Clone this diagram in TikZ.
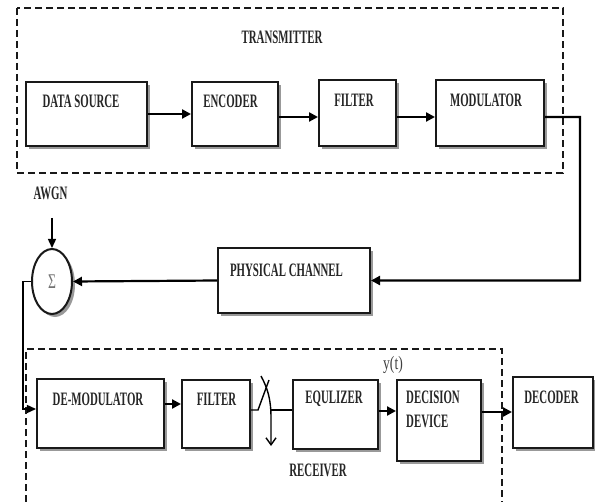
\documentclass[tikz,border=0pt]{standalone}
\usepackage{graphicx}
\usepackage{fontspec}
\setmainfont{Liberation Serif}
\usetikzlibrary{arrows.meta,shapes.geometric,shadows}
\newcommand\cnd[1]{\scalebox{0.64}[1.12]{#1}}
\begin{document}
\begin{tikzpicture}[x=1bp,y=-1bp,
  blk/.style={draw=black!90, line width=2bp, fill=white, inner sep=0pt,
    drop shadow={shadow xshift=3bp, shadow yshift=-3bp, fill=black!50, opacity=0.8}},
  lbl/.style={inner sep=0pt, text=black!85, font=\fontsize{17}{24}\selectfont\bfseries},
  grp/.style={dash pattern=on 7bp off 4bp, line width=1.7bp, draw=black!90},
  arr/.style={line width=2.2bp, -{Triangle[length=9bp,width=9bp]}},
  warr/.style={line width=1.4bp, -{Triangle[length=9bp,width=8bp]}},
  wire/.style={line width=1.4bp}
]
\fill[white] (0,0) rectangle (595,502);
\useasboundingbox (0,0) rectangle (595,502);

% groups
\draw[grp] (17,8) rectangle (563,173);
\draw[grp] (26,502) |- (502,349) -- (502,502);

% transmitter blocks
\node[blk, minimum width=121bp, minimum height=64bp] (ds) at (86.5,114) {};
\node[blk, minimum width=86bp, minimum height=64bp] (enc) at (235,114) {};
\node[blk, minimum width=77bp, minimum height=66bp] (fil) at (357.5,113) {};
\node[blk, minimum width=108bp, minimum height=66bp] (mod) at (490,113) {};

% channel and sum
\node[blk, minimum width=152bp, minimum height=65bp] (chan) at (294,280.5) {};
\node[blk, ellipse, minimum width=40bp, minimum height=65bp, text=black!55,
  font=\fontsize{21}{21}\selectfont] (sum) at (52,281.5) {\scalebox{0.65}[1]{Σ}};

% receiver blocks
\node[blk, minimum width=127bp, minimum height=69bp] (dem) at (100.5,413.5) {};
\node[blk, minimum width=68bp, minimum height=68bp] (fil2) at (216,414) {};
\node[blk, minimum width=85bp, minimum height=69bp] (eq) at (335.5,414.5) {};
\node[blk, minimum width=84bp, minimum height=81bp] (dd) at (439,420.5) {};
\node[blk, minimum width=80bp, minimum height=71bp] (dec) at (553,412.5) {};

% connectors transmitter
\draw[arr] (ds.east) -- (enc.west);
\draw[arr] ([yshift=-3bp]enc.east) -- ([yshift=-3bp]enc.east -| fil.west);
\draw[arr] ([yshift=-4bp]fil.east) -- ([yshift=-4bp]fil.east -| mod.west);
\coordinate (tr) at (580,117);
\draw[arr] ([yshift=-4bp]mod.east) -- (tr) |- (chan.east);
\draw[arr] (chan.west) -- (sum.east);

% noise
\coordinate (nz) at (52,218);
\draw[warr] (nz) -- (sum.north);

% sum to receiver
\coordinate (lw) at (23,0);
\draw[warr] (sum.west) -- (sum.west -| lw) |- ([yshift=4.5bp]dem.west);
\draw[arr] ([yshift=9.5bp]dem.east) -- ([yshift=9.5bp]dem.east -| fil2.west);

% switch
\coordinate (s1) at (258,410);
\coordinate (s2) at (269,380);
\coordinate (s3) at (261,376);
\coordinate (s4) at (271,446);
\coordinate (s5) at (271,410);
\draw[wire] ([yshift=4bp]fil2.east) -- (s1) -- (s2);
\draw[wire, -{Straight Barb[length=7bp,width=10bp]}] (s3) .. controls (268,389) and (271,400) .. (271,418) -- (s4);
\draw[wire] (s5) -- (s5 -| eq.west);

\draw[arr] ([yshift=3.5bp]eq.east) -- ([yshift=3.5bp]eq.east -| dd.west);
\draw[arr] ([yshift=8.5bp]dd.east) -- ([yshift=8.5bp]dd.east -| dec.west);

% labels
\node[lbl] (txT) at (282,37) {\cnd{TRANSMITTER}};
\node[lbl] (dsT) at (81,101) {\cnd{DATA SOURCE}};
\node[lbl] (encT) at (230.5,101) {\cnd{ENCODER}};
\node[lbl] (filT) at (354,100) {\cnd{FILTER}};
\node[lbl] (modT) at (486,100) {\cnd{MODULATOR}};
\node[lbl] (awgnT) at (50.5,193) {\cnd{AWGN}};
\node[lbl] (chanT) at (286.5,270) {\cnd{PHYSICAL CHANNEL}};
\node[lbl] (demT) at (98,399) {\cnd{DE-MODULATOR}};
\node[lbl] (fil2T) at (216.5,399) {\cnd{FILTER}};
\node[lbl] (eqT) at (334,399) {\cnd{EQULIZER}};
\node[lbl, align=left, anchor=west] (ddT) at (406,409.5) {\cnd{DECISION}\\\cnd{DEVICE}};
\node[lbl] (decT) at (551.5,397) {\cnd{DECODER}};
\node[lbl] (rxT) at (318,470) {\cnd{RECEIVER}};
\node[inner sep=0pt, text=black!75, font=\fontsize{19}{19}\selectfont] (yt) at (393,365) {\scalebox{0.72}[1]{y(t)}};
\end{tikzpicture}
\end{document}
